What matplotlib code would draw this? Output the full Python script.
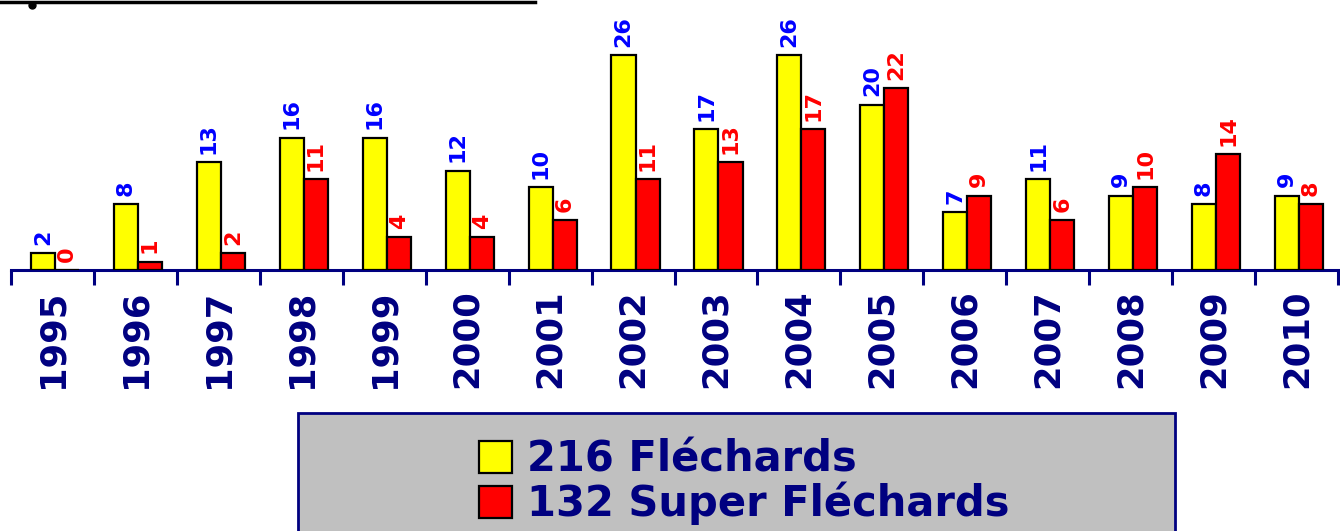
import numpy as np
import matplotlib
matplotlib.use("Agg")
import matplotlib.pyplot as plt
from matplotlib.patches import Patch, Rectangle
from matplotlib.lines import Line2D

years = [str(y) for y in range(1995, 2011)]
flechards = [2, 8, 13, 16, 16, 12, 10, 26, 17, 26, 20, 7, 11, 9, 8, 9]
super_flechards = [0, 1, 2, 11, 4, 4, 6, 11, 13, 17, 22, 9, 6, 10, 14, 8]
legend_labels = ["216 Fléchards", "132 Super Fléchards"]

NAVY = "#000080"
W, H = 1340, 531

fig = plt.figure(figsize=(W / 100, H / 100), dpi=100)
ax = fig.add_axes([11 / W, 1 - 270 / H, 1327 / W, 270 / H])

x = np.arange(len(years))
bw = 0.29
b1 = ax.bar(x - bw / 2 + 0.03, flechards, bw, color="#FFFF00", edgecolor="black", linewidth=1.6, zorder=3)
b2 = ax.bar(x + bw / 2 + 0.03, super_flechards, bw, color="#FF0000", edgecolor="black", linewidth=1.6, zorder=3)

ax.bar_label(b1, rotation=90, padding=6, color="#0000FF", fontsize=16, fontweight="bold")
ax.bar_label(b2, rotation=90, padding=6, color="#FF0000", fontsize=16, fontweight="bold")

ax.set_xlim(-0.5, len(years) - 0.5)
ax.set_ylim(0, 270 / 8.27)
ax.set_yticks([])
for s in ["top", "left", "right"]:
    ax.spines[s].set_visible(False)
ax.spines["bottom"].set_color(NAVY)
ax.spines["bottom"].set_linewidth(2.2)

ax.set_xticks(x)
ax.set_xticklabels(years, rotation=90, color=NAVY, fontsize=25.5, fontweight="bold")
ax.tick_params(axis="x", which="major", length=0, pad=14)
ax.set_xticks(np.arange(len(years) + 1) - 0.5, minor=True)
ax.tick_params(axis="x", which="minor", length=11, width=2.2, color=NAVY, direction="out")

# legend box
fig.patches.append(Rectangle((298 / W, -0.1), 877 / W, (531 - 413) / H + 0.1,
                             transform=fig.transFigure, facecolor="#C0C0C0",
                             edgecolor=NAVY, linewidth=2, zorder=0))
handles = [Patch(facecolor="#FFFF00", edgecolor="black", linewidth=1.6),
           Patch(facecolor="#FF0000", edgecolor="black", linewidth=1.6)]
leg = fig.legend(handles, legend_labels, loc="upper left",
                 bbox_to_anchor=(458 / W, 1 - 418 / H), frameon=False,
                 fontsize=30, handlelength=0.8, handleheight=0.8,
                 handletextpad=0.35, labelspacing=0.02, borderpad=0)
for t in leg.get_texts():
    t.set_color(NAVY)
    t.set_fontweight("bold")

# remnant of title underline at top
fig.add_artist(Line2D([0, 535 / W], [1 - 2 / H, 1 - 2 / H], color="black", linewidth=2.5))
fig.add_artist(Line2D([32 / W], [1 - 5 / H], marker="o", markersize=5, color="black"))

fig.savefig("out.png", dpi=100)
